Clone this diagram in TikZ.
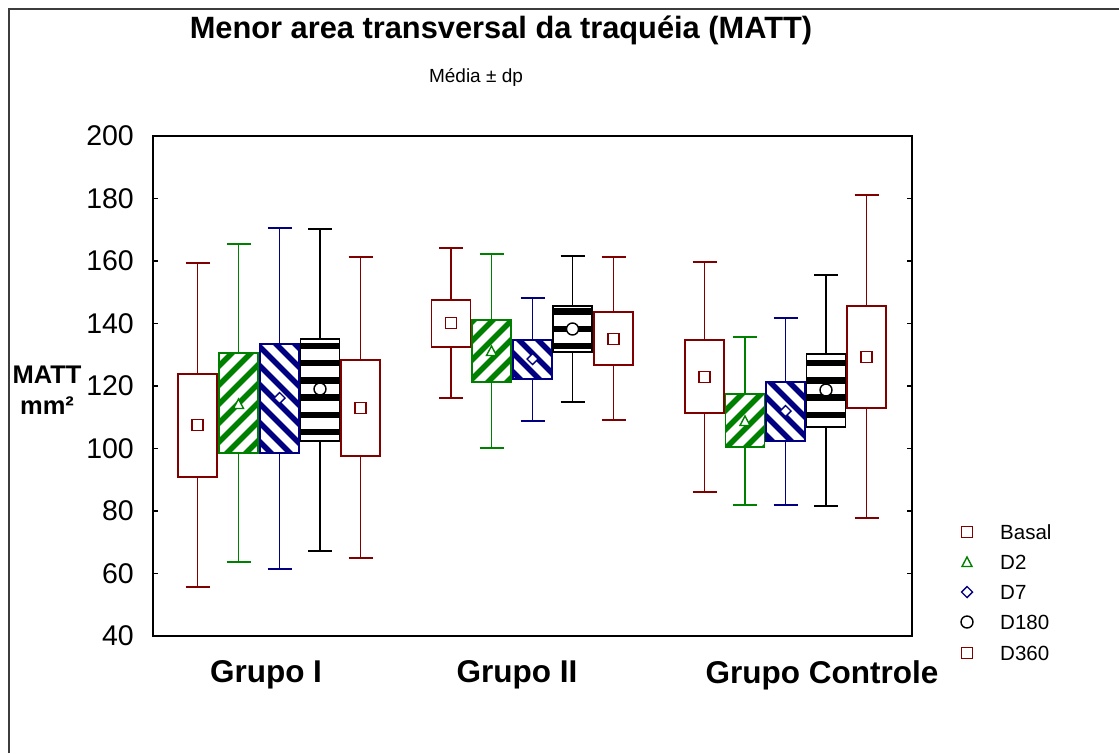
\documentclass[tikz,border=0pt]{standalone}
\usepackage{fontspec}
\setmainfont{Liberation Sans}
\definecolor{mred}{RGB}{128,0,0}
\definecolor{mgreen}{RGB}{0,128,0}
\definecolor{mblue}{RGB}{0,0,128}
\definecolor{frameg}{RGB}{60,60,60}
\tikzset{
  whisk/.style={line width=1.1},
  boxline/.style={line width=1.4},
  mk/.style={line width=1.4,fill=white},
  ticklab/.style={anchor=east,font=\fontsize{28.5}{30}\selectfont,inner sep=0pt},
  grplab/.style={font=\bfseries\fontsize{31.5}{34}\selectfont,inner sep=0pt},
  leglab/.style={anchor=west,font=\fontsize{20.5}{22}\selectfont,inner sep=0pt},
}
% whisker: cx, top, bottom, colour
\newcommand\bpwhisk[4]{%
  \draw[whisk,#4] (#1,#2) -- (#1,#3);
  \draw[whisk,#4] (#1-12,#2) -- (#1+12,#2);
  \draw[whisk,#4] (#1-12,#3) -- (#1+12,#3);}
% markers: x, y, colour
\newcommand\mksquare[3]{\draw[#3,mk] (#1-5.5,#2-5.5) rectangle (#1+5.5,#2+5.5);}
\newcommand\mktri[3]{\draw[#3,mk] (#1-5,#2+4.5) -- (#1+5,#2+4.5) -- (#1,#2-5) -- cycle;}
\newcommand\mkdiam[3]{\draw[#3,mk] (#1-5.5,#2) -- (#1,#2-5.5) -- (#1+5.5,#2) -- (#1,#2+5.5) -- cycle;}
\newcommand\mkcirc[3]{\draw[#3,mk] (#1,#2) circle (6);}
% plain box: cx, wt, bt, bb, wb, mean
\newcommand\bpplain[6]{%
  \bpwhisk{#1}{#2}{#5}{mred}
  \draw[mred,boxline,fill=white] (#1-19.5,#3) rectangle (#1+19.5,#4);
  \mksquare{#1}{#6}{mred}}
\newcommand\bpgreen[6]{%
  \bpwhisk{#1}{#2}{#5}{mgreen}
  \fill[white] (#1-19.5,#3) rectangle (#1+19.5,#4);
  \begin{scope}
    \clip (#1-19.5,#3) rectangle (#1+19.5,#4);
    \foreach \c in {300,319,...,1500} \draw[mgreen,line width=5.5] (\c-100,100) -- (\c-700,700);
  \end{scope}
  \draw[boxline,mgreen] (#1-19.5,#3) rectangle (#1+19.5,#4);
  \mktri{#1}{#6}{mgreen}}
\newcommand\bpblue[6]{%
  \bpwhisk{#1}{#2}{#5}{mblue}
  \fill[white] (#1-19.5,#3) rectangle (#1+19.5,#4);
  \begin{scope}
    \clip (#1-19.5,#3) rectangle (#1+19.5,#4);
    \foreach \c in {-600,-581,...,800} \draw[mblue,line width=5.5] (\c+100,100) -- (\c+700,700);
  \end{scope}
  \draw[boxline,mblue] (#1-19.5,#3) rectangle (#1+19.5,#4);
  \mkdiam{#1}{#6}{mblue}}
\newcommand\bpblack[6]{%
  \bpwhisk{#1}{#2}{#5}{black}
  \fill[white] (#1-19.5,#3) rectangle (#1+19.5,#4);
  \begin{scope}
    \clip (#1-19.5,#3) rectangle (#1+19.5,#4);
    \foreach \k in {-10,...,12} \draw[black,line width=6.5] (#1-25,346+17.2*\k) -- (#1+25,346+17.2*\k);
  \end{scope}
  \draw[boxline,black] (#1-19.5,#3) rectangle (#1+19.5,#4);
  \mkcirc{#1}{#6}{black}}
\begin{document}
\begin{tikzpicture}[x=1pt,y=-1pt]
\useasboundingbox (0,0) rectangle (1119,753);
\fill[white] (0,0) rectangle (1119,753);
% outer frame
\draw[line width=2,frameg] (9,753) -- (9,9) -- (1119,9);
% titles
\node[font=\bfseries\fontsize{30.8}{34}\selectfont,inner sep=0pt] (title) at (501,30) {Menor area transversal da traquéia (MATT)};
\node[font=\fontsize{19}{22}\selectfont,inner sep=0pt] (sub) at (476,77) {Média ± dp};
% y axis label
\node[font=\bfseries\fontsize{25.5}{31}\selectfont,align=center,inner sep=0pt] (ylab) at (47,390) {MATT\\mm²};
% plot frame and ticks
\draw[line width=1.5] (153,136) rectangle (912,636);
\foreach \v in {40,60,...,200}{
  \pgfmathsetmacro\yy{636-(\v-40)*3.125}
  \draw[line width=1.2] (153,\yy) -- (158,\yy);
  \draw[line width=1.2] (907,\yy) -- (912,\yy);
  \node[ticklab] (t\v) at (134,\yy) {\v};
}
% Grupo I
\bpplain{197.5}{263}{374}{477}{587}{425}
\bpgreen{238.5}{244}{353}{453}{562}{404}
\bpblue{279.5}{228}{344}{453}{569}{398}
\bpblack{320}{229}{339}{441}{551}{389}
\bpplain{360.5}{257}{360}{456}{558}{408}
% Grupo II
\bpplain{451}{248}{300}{347}{398}{323}
\bpgreen{491.5}{254}{320}{382}{448}{351}
\bpblue{532.5}{298}{340}{379}{421}{359}
\bpblack{572.5}{256}{306}{352}{402}{329}
\bpplain{613.5}{257}{312}{365}{420}{339}
% Grupo Controle
\bpplain{704.5}{262}{340}{413}{492}{377}
\bpgreen{745}{337}{394}{447}{505}{421}
\bpblue{785.5}{318}{382}{441}{505}{411}
\bpblack{826}{275}{354}{427}{506}{390}
\bpplain{866.5}{195}{306}{408}{518}{357}
% group labels
\node[grplab] (g1) at (266,675) {Grupo I};
\node[grplab] (g2) at (517,675) {Grupo II};
\node[grplab] (g3) at (822,675) {Grupo Controle};
% legend
\mksquare{967}{532}{mred}
\mktri{967}{562}{mgreen}
\mkdiam{967}{592}{mblue}
\mkcirc{967}{622}{black}
\mksquare{967}{653}{mred}
\node[leglab] (l1) at (1000,532) {Basal};
\node[leglab] (l2) at (1000,562) {D2};
\node[leglab] (l3) at (1000,592) {D7};
\node[leglab] (l4) at (1000,622) {D180};
\node[leglab] (l5) at (1000,653) {D360};
\end{tikzpicture}
\end{document}
